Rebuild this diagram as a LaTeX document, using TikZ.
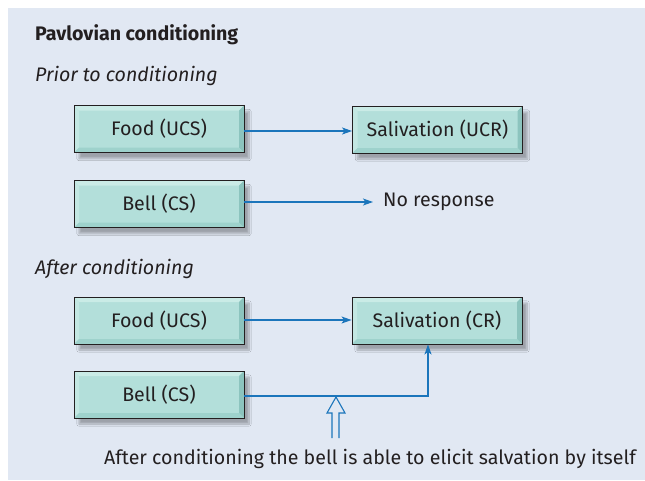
\documentclass[tikz,border=0pt]{standalone}
\usepackage{fontspec}
\setmainfont{Fira Sans}
\usetikzlibrary{arrows.meta,shadows.blur}

\definecolor{panel}{HTML}{E1E8F3}
\definecolor{boxfill}{HTML}{B3DFDA}
\definecolor{boxlight}{HTML}{CAEBE6}
\definecolor{boxdark}{HTML}{8CC4BE}
\definecolor{boxmid}{HTML}{9ED2CC}
\definecolor{linkblue}{HTML}{1B75BB}
\definecolor{ink}{HTML}{231F20}

\newcommand{\txt}{\fontsize{19.6}{23}\selectfont}

\tikzset{
  stage/.style={draw=ink, line width=0.9pt, fill=boxfill, minimum width=170pt, minimum height=47pt,
    inner sep=0pt, font=\txt, text=ink,
    blur shadow={shadow xshift=5pt, shadow yshift=-6pt, shadow blur steps=10, shadow opacity=30},
    path picture={
      \fill[boxlight] (path picture bounding box.north west) -- (path picture bounding box.north east)
        -- ++(-5,5) -- ++(-160,0) -- cycle;
      \fill[boxlight!70!boxfill] (path picture bounding box.north west) -- ++(5,5) -- ++(0,37)
        -- (path picture bounding box.south west) -- cycle;
      \fill[boxdark] (path picture bounding box.north east) -- (path picture bounding box.south east)
        -- ++(-5,-5) -- ++(0,-37) -- cycle;
      \fill[boxmid] (path picture bounding box.south west) -- (path picture bounding box.south east)
        -- ++(-5,-5) -- ++(-160,0) -- cycle;
    }},
  link/.style={draw=linkblue, line width=1.1pt, -{Stealth[length=10pt,width=7pt,inset=2.5pt]}},
  heading/.style={anchor=west, inner sep=0pt, text=ink, font=\txt},
  note/.style={inner sep=0pt, text=ink, font=\txt}
}

\begin{document}
\begin{tikzpicture}[x=1pt, y=-1pt]

  \useasboundingbox (0,0) rectangle (645,480);
  \fill[panel] (8,8) rectangle (645,480);

  % headings
  \node[heading, font=\txt\bfseries] (title) at (35,35) {Pavlovian conditioning};
  \node[heading, font=\txt\itshape] (prior) at (35,76) {Prior to conditioning};
  \node[heading, font=\txt\itshape] (after) at (35,269) {After conditioning};

  % before conditioning
  \node[stage] (food1) at (159,129) {Food (UCS)};
  \node[stage] (sal1) at (437.5,129.5) {Salivation (UCR)};
  \node[stage] (bell1) at (159,204) {Bell (CS)};
  \node[note, anchor=west] (none) at (383,202) {No response};

  \draw[link] (food1.east |- 0,131) -- (sal1.west |- 0,131);
  \draw[link, shorten >=10pt] (bell1.east |- 0,202) -- (none.west);

  % after conditioning
  \node[stage] (food2) at (159,320.5) {Food (UCS)};
  \node[stage] (sal2) at (437,320.5) {Salivation (CR)};
  \node[stage] (bell2) at (159,394.5) {Bell (CS)};

  \draw[link] (food2.east |- 0,320) -- (sal2.west |- 0,320);
  \draw[link] (bell2.east |- 0,396) -| ([xshift=-9pt]sal2.south);

  % hollow pointer up to the bell line
  \node[note] (remark) at (370,459) {After conditioning the bell is able to elicit salvation by itself};
  \coordinate (hit) at (336,397);
  \draw[linkblue, line width=1.1pt, line join=miter] (332,438) -- (332,413) -- (327,413) -- (hit)
    -- (345,413) -- (339,413) -- (339,438);

\end{tikzpicture}
\end{document}
